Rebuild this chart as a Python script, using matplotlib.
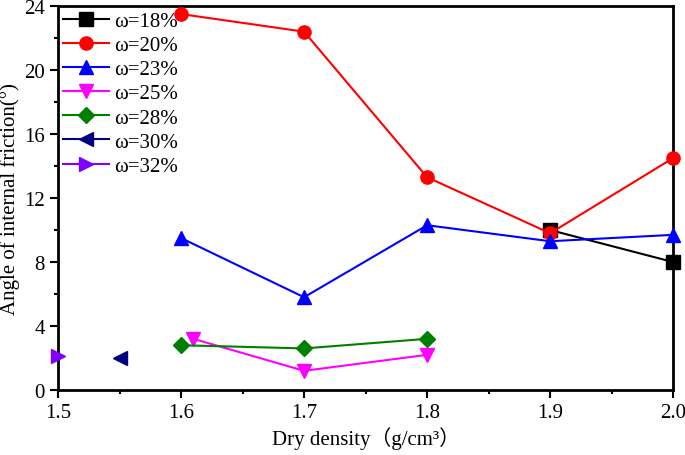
import matplotlib
matplotlib.use("Agg")
import matplotlib.pyplot as plt
from matplotlib.ticker import MultipleLocator, FormatStrFormatter

plt.rcParams['font.family'] = ['Liberation Serif', 'Noto Sans CJK SC', 'DejaVu Sans']

x18 = [1.9, 2.0]; y18 = [10.0, 8.0]
x20 = [1.6, 1.7, 1.8, 1.9, 2.0]; y20 = [23.5, 22.4, 13.3, 9.8, 14.5]
x23 = [1.6, 1.7, 1.8, 1.9, 2.0]; y23 = [9.5, 5.8, 10.3, 9.3, 9.7]
x25 = [1.61, 1.7, 1.8]; y25 = [3.2, 1.2, 2.2]
x28 = [1.6, 1.7, 1.8]; y28 = [2.8, 2.6, 3.2]
x30 = [1.55]; y30 = [2.0]
x32 = [1.5]; y32 = [2.1]
labels = ['ω=18%', 'ω=20%', 'ω=23%', 'ω=25%', 'ω=28%', 'ω=30%', 'ω=32%']

fig = plt.figure(figsize=(6.85, 4.56), dpi=100)
ax = fig.add_axes([0.0847, 0.1425, 0.898, 0.842])

series = [
    (x18, y18, 'black', 's'),
    (x20, y20, 'red', 'o'),
    (x23, y23, 'blue', '^'),
    (x25, y25, 'magenta', 'v'),
    (x28, y28, 'green', 'D'),
    (x30, y30, 'navy', '<'),
    (x32, y32, '#8000FF', '>'),
]
for (xs, ys, c, m), lab in zip(series, labels):
    ms = 8.5 if m == 'D' else 9.5
    ax.plot(xs, ys, color=c, marker=m, markersize=ms, linewidth=1.5, label=lab, clip_on=False, zorder=3)

ax.set_xlim(1.5, 2.0)
ax.set_ylim(0, 24)
ax.xaxis.set_major_locator(MultipleLocator(0.1))
ax.xaxis.set_minor_locator(MultipleLocator(0.05))
ax.yaxis.set_major_locator(MultipleLocator(4))
ax.yaxis.set_minor_locator(MultipleLocator(2))
ax.xaxis.set_major_formatter(FormatStrFormatter('%.1f'))
ax.tick_params(axis='both', which='major', direction='out', length=6, width=1.5, labelsize=15)
ax.tick_params(axis='both', which='minor', direction='out', length=3, width=1.5)
for s in ax.spines.values():
    s.set_linewidth(2)

ax.set_xlabel('Dry density（g/cm³）', fontsize=15, labelpad=3)
ax.set_ylabel('Angle of internal friction(°)', fontsize=15, labelpad=3)

leg = ax.legend(loc='upper left', frameon=False, fontsize=15, handlelength=2.2,
                labelspacing=0.22, borderaxespad=0.25, handletextpad=0.25,
                borderpad=0.0)

fig.savefig('out.png', dpi=100)
